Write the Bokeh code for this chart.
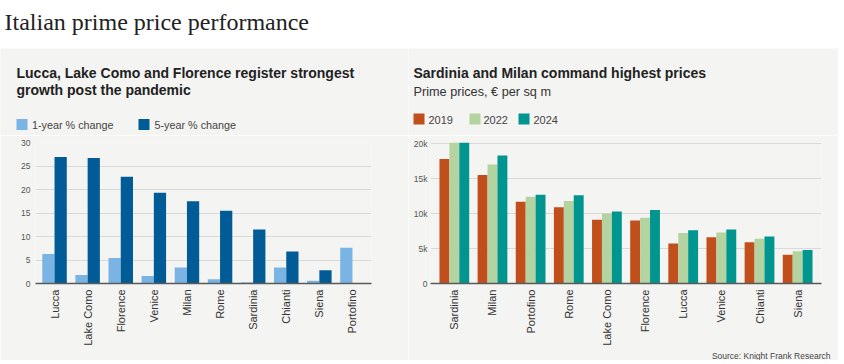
import math
import numpy as np
from bokeh.plotting import figure
from bokeh.models import FactorRange, Range1d, FixedTicker, Title
from bokeh.layouts import column, row
from bokeh.transform import dodge
from bokeh.core.properties import value
from bokeh.embed import file_html
from bokeh.resources import INLINE

# ---------------- data ----------------
main_title = "Italian prime price performance"

left_title_1 = "Lucca, Lake Como and Florence register strongest"
left_title_2 = "growth post the pandemic"
left_cats = ["Lucca", "Lake Como", "Florence", "Venice", "Milan", "Rome",
             "Sardinia", "Chianti", "Siena", "Portofino"]
one_year = [6.3, 1.8, 5.4, 1.6, 3.4, 0.9, 0.2, 3.4, 0.6, 7.6]
five_year = [26.9, 26.7, 22.7, 19.3, 17.5, 15.5, 11.5, 6.8, 2.8, np.nan]
left_series = ["1-year % change", "5-year % change"]
left_ticks = [0, 5, 10, 15, 20, 25, 30]

right_title = "Sardinia and Milan command highest prices"
right_subtitle = "Prime prices, € per sq m"
right_cats = ["Sardinia", "Milan", "Portofino", "Rome", "Lake Como",
              "Florence", "Lucca", "Venice", "Chianti", "Siena"]
p2019 = [17800, 15500, 11700, 10900, 9100, 9000, 5700, 6600, 5900, 4100]
p2022 = [20200, 17000, 12400, 11800, 10000, 9400, 7200, 7300, 6400, 4600]
p2024 = [20200, 18300, 12700, 12600, 10300, 10500, 7600, 7700, 6700, 4800]
right_series = ["2019", "2022", "2024"]
right_ticks = [0, 5000, 10000, 15000, 20000]
right_tick_labels = ["0", "5k", "10k", "15k", "20k"]

source_text = "Source: Knight Frank Research"

# ---------------- style ----------------
PANEL = "#f4f4f2"
GRID = "#d9d9d9"
AXIS = "#5a5a5a"
TXT = "#222222"
TICK_TXT = "#555555"
SANS = "Liberation Sans"
SERIF = "Liberation Serif"
left_colors = ["#7ab4e4", "#005b96"]
right_colors = ["#c04f1c", "#b3d3a0", "#00968f"]

LW, RW = 408, 430          # widths of the two panels
HH, CH = 87, 225           # header height, chart height


def blank(w, h, bg):
    f = figure(width=w, height=h, x_range=Range1d(0, w), y_range=Range1d(h, 0),
               output_backend="svg", toolbar_location=None, min_border=0,
               background_fill_color=bg, border_fill_color=bg,
               outline_line_color=None)
    f.axis.visible = False
    f.grid.visible = False
    return f


def style_chart(p, ticks, ystandoff):
    p.xgrid.grid_line_color = None
    p.ygrid.grid_line_color = GRID
    p.ygrid.grid_line_width = 1
    p.ygrid.ticker = FixedTicker(ticks=ticks)
    p.yaxis.ticker = FixedTicker(ticks=ticks)
    p.yaxis.axis_line_color = None
    p.yaxis.major_tick_line_color = None
    p.yaxis.minor_tick_line_color = None
    p.yaxis.major_tick_out = 0
    p.yaxis.major_tick_in = 0
    p.yaxis.minor_tick_out = 0
    p.yaxis.major_label_text_font = SANS
    p.yaxis.major_label_text_font_size = "8.5px"
    p.yaxis.major_label_text_color = TICK_TXT
    p.yaxis.major_label_standoff = ystandoff
    p.xaxis.axis_line_color = AXIS
    p.xaxis.axis_line_width = 1.5
    p.xaxis.major_tick_line_color = None
    p.xaxis.minor_tick_line_color = None
    p.xaxis.major_tick_out = 0
    p.xaxis.major_tick_in = 0
    p.xaxis.minor_tick_out = 0
    p.xaxis.major_label_orientation = math.pi / 2
    p.xaxis.major_label_text_font = SANS
    p.xaxis.major_label_text_font_size = "11px"
    p.xaxis.major_label_text_color = "#333333"
    p.xaxis.major_label_standoff = 6


# ---------------- title ----------------
t = blank(LW + RW, 48, "white")
t.text(x=[4], y=[21], text=[main_title], text_font=value(SERIF),
       text_font_size="24px", text_color=TXT, text_baseline="middle")

# ---------------- left header ----------------
hL = blank(LW, HH, PANEL)
hL.text(x=[16, 16], y=[24, 41], text=[left_title_1, left_title_2],
        text_font=value(SANS), text_font_style="bold", text_font_size="14px",
        text_color=TXT, text_baseline="middle")
hL.scatter(x=[21.5, 143.5], y=[76, 76], marker="square", size=11,
           color=left_colors, line_color=None)
hL.text(x=[31.5, 154], y=[76.5, 76.5], text=left_series, text_font=value(SANS),
        text_font_size="10.8px", text_color="#444444", text_baseline="middle")

# ---------------- right header ----------------
hR = blank(RW, HH, PANEL)
hR.text(x=[5], y=[24], text=[right_title], text_font=value(SANS),
        text_font_style="bold", text_font_size="14px", text_color=TXT,
        text_baseline="middle")
hR.text(x=[5], y=[43], text=[right_subtitle], text_font=value(SANS),
        text_font_size="12.7px", text_color="#333333", text_baseline="middle")
hR.scatter(x=[10.5, 66.5, 115.5], y=[70.5, 70.5, 70.5], marker="square", size=11,
           color=right_colors, line_color=None)
hR.text(x=[20, 75, 125], y=[71, 71, 71], text=right_series, text_font=value(SANS),
        text_font_size="11px", text_color="#444444", text_baseline="middle")

# ---------------- left chart ----------------
pL = figure(x_range=FactorRange(*left_cats, range_padding=0.015), y_range=Range1d(0, 30),
            width=LW, height=CH, output_backend="svg", toolbar_location=None,
            min_border_left=35, min_border_right=37, min_border_top=7,
            min_border_bottom=75, background_fill_color=PANEL,
            border_fill_color=PANEL, outline_line_color=None)
pL.vbar(x=dodge("cat", -0.185, range=pL.x_range), top="v", width=0.37,
        source=dict(cat=left_cats, v=one_year), color=left_colors[0], line_color=None)
pL.vbar(x=dodge("cat", 0.185, range=pL.x_range), top="v", width=0.37,
        source=dict(cat=left_cats, v=five_year), color=left_colors[1], line_color=None)
style_chart(pL, left_ticks, 5)

# ---------------- right chart ----------------
pR = figure(x_range=FactorRange(*right_cats, range_padding=0.025), y_range=Range1d(0, 20150),
            width=RW, height=CH, output_backend="svg", toolbar_location=None,
            min_border_left=22, min_border_right=17, min_border_top=7,
            min_border_bottom=75, background_fill_color=PANEL,
            border_fill_color=PANEL, outline_line_color=None)
for off, vals, col in zip([-0.26, 0.0, 0.26], [p2019, p2022, p2024], right_colors):
    pR.vbar(x=dodge("cat", off, range=pR.x_range), top="v", width=0.26,
            source=dict(cat=right_cats, v=vals), color=col, line_color=None)
style_chart(pR, right_ticks, 3)
pR.yaxis.major_label_overrides = {k: v for k, v in zip(right_ticks, right_tick_labels)}
pR.add_layout(Title(text=source_text, align="right", offset=-9, standoff=0,
                    text_font=SANS, text_font_size="8.5px", text_font_style="normal",
                    text_color="#444444"), "below")

layout = column(t, row(hL, hR, spacing=0), row(pL, pR, spacing=0), spacing=0)

open("out.html", "w").write(file_html(layout, INLINE))
